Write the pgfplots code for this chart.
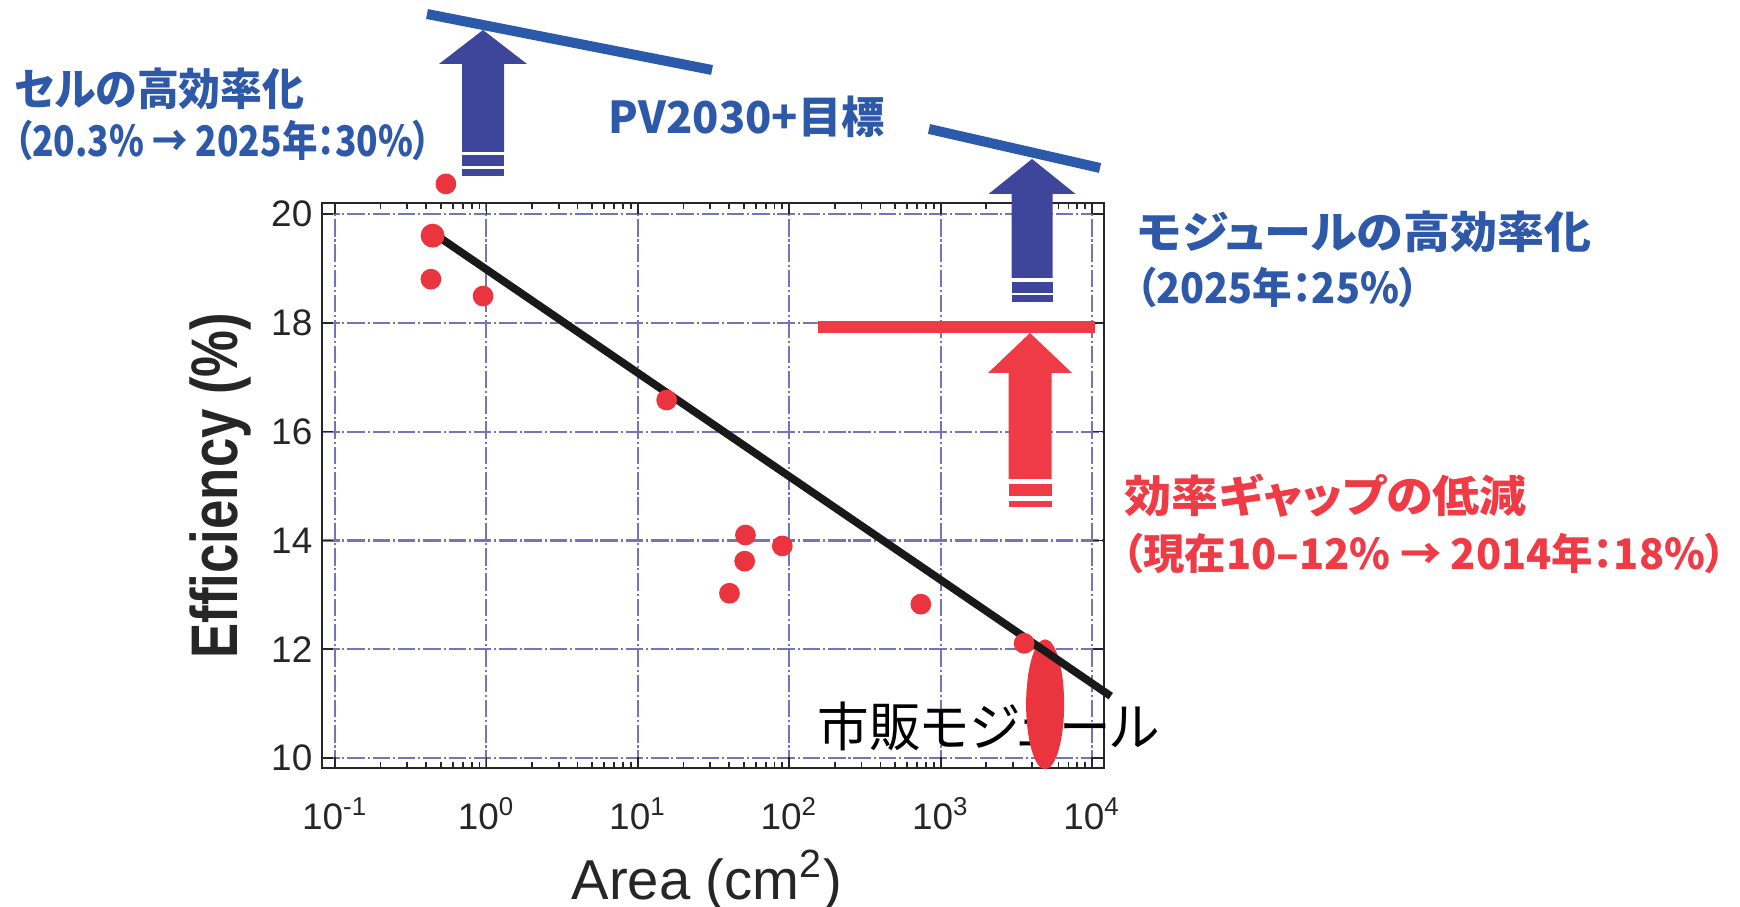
\documentclass[border=0pt]{standalone}
\usepackage{pgfplots}
\pgfplotsset{compat=1.18}
\usepackage{fontspec}
\usepackage{graphicx}
\setmainfont{Liberation Sans}
\newfontfamily\jp{Noto Sans CJK JP}[RawFeature={+palt}]
\definecolor{tblue}{RGB}{46,88,168}
\definecolor{ablue}{RGB}{62,70,155}
\definecolor{lblue}{RGB}{44,90,170}
\definecolor{ared}{RGB}{238,59,69}
\definecolor{pred}{RGB}{234,52,62}
\definecolor{gridc}{RGB}{120,114,182}
\begin{document}
\begin{tikzpicture}
\path[use as bounding box] (0,0) rectangle (174mm,90.7mm);
\begin{axis}[
  at={(32.2mm,13.9mm)}, anchor=south west,
  scale only axis, width=78.2mm, height=56.5mm,
  xmode=log, xmin=0.08204, xmax=11995, ymin=9.82, ymax=20.2,
  clip=false,
  axis line style={black!85, line width=0.7pt},
  tick align=inside,
  major tick length=1.1mm, minor tick length=0.6mm,
  tick style={black!85, line width=0.5pt},
  xtick={0.1,1,10,100,1000,10000},
  xticklabels={10\textsuperscript{-1},10\textsuperscript{0},10\textsuperscript{1},10\textsuperscript{2},10\textsuperscript{3},10\textsuperscript{4}},
  ytick={10,12,14,16,18,20},
  yticklabels={10,12,14,16,18,20},
  ticklabel style={font=\fontsize{10.5}{12}\selectfont, text=black!85},
  xticklabel style={anchor=north, inner sep=0pt, yshift=-2.9mm},
  yticklabel style={anchor=east, inner sep=0pt, xshift=-0.9mm},
  grid=major,
  major grid style={gridc, line width=0.6pt, dash pattern=on 5pt off 0.8pt on 0.6pt off 0.8pt},
  xlabel={Area (cm\textsuperscript{2})},
  xlabel style={font=\fontsize{16}{18}\selectfont, text=black!85, at={(axis description cs:0.492,-0.232)}, anchor=base},
  ylabel={\scalebox{1}[1.25]{Efficiency (\%)}},
  ylabel style={font=\fontsize{15}{18}\selectfont\bfseries, text=black!85, at={(axis description cs:-0.130,0.5)}, anchor=center},
]
% measured points
\addplot[only marks, mark=*, mark size=2.75pt, color=pred, mark options={draw=none}] coordinates {
  (0.43,18.80) (0.95,18.49) (15.5,16.58) (51.4,14.10) (50.8,13.62)
  (40.3,13.03) (90,13.90) (740,12.83) (3560,12.11) (0.54,20.55)
};
% commercial module label and ellipse
\node[anchor=west, inner sep=0pt] at (axis cs:152,10.58) {\resizebox{34.2mm}{\height}{\fontsize{15}{17}\selectfont\jp 市販モジュール}};
\fill[pred] (axis cs:4900,10.99) ellipse [x radius=1.9mm, y radius=6.5mm];
% trend line
\addplot[black!90, line width=2.2pt] coordinates {(0.46,19.62) (13300,11.14)};
% large cell point
\addplot[only marks, mark=*, mark size=3.2pt, color=pred, mark options={draw=none}] coordinates {(0.441,19.60)};
\end{axis}
\begin{scope}[x=0.1mm, y=-0.1mm, shift={(0mm,90.7mm)}]
% PV2030+ target lines
\draw[lblue, line width=1mm] (427,14) -- (712,70);
\draw[lblue, line width=1mm] (929,129) -- (1100,168);
% blue arrow 1
\fill[ablue] (483,30) -- (527,64) -- (504,64) -- (504,152) -- (462,152) -- (462,64) -- (439,64) -- cycle;
\fill[ablue] (462,155) rectangle (504,166);
\fill[ablue] (462,169) rectangle (504,176);
% blue arrow 2
\fill[ablue] (1032,159) -- (1075.5,194) -- (1052.5,194) -- (1052.5,278) -- (1011.5,278) -- (1011.5,194) -- (988.5,194) -- cycle;
\fill[ablue] (1011.5,282) rectangle (1052.5,293);
\fill[ablue] (1011.5,295) rectangle (1052.5,302);
% red line and arrow
\draw[ared, line width=1.2mm] (818,327) -- (1095,327);
\fill[ared] (1030,333) -- (1072,373) -- (1051.5,373) -- (1051.5,479) -- (1008.5,479) -- (1008.5,373) -- (988,373) -- cycle;
\fill[ared] (1008.5,484) rectangle (1051.5,496);
\fill[ared] (1008.5,501) rectangle (1051.5,507);
% texts
\node[anchor=west, inner sep=0pt, text=tblue] at (14,89) {\resizebox{29mm}{\height}{\fontsize{12.5}{14}\selectfont\jp\bfseries セルの高効率化}};
\node[anchor=west, inner sep=0pt, text=tblue] at (14,140) {\resizebox{41.6mm}{\height}{\fontsize{12}{14}\selectfont\jp\bfseries （20.3\% → 2025年：30\%）}};
\node[anchor=west, inner sep=0pt, text=tblue] at (608,117) {\resizebox{27.6mm}{\height}{\fontsize{12.5}{14}\selectfont\jp\bfseries PV2030+目標}};
\node[anchor=west, inner sep=0pt, text=tblue] at (1137,232) {\resizebox{45.4mm}{\height}{\fontsize{12.5}{14}\selectfont\jp\bfseries モジュールの高効率化}};
\node[anchor=west, inner sep=0pt, text=tblue] at (1136,287) {\resizebox{28.2mm}{\height}{\fontsize{12}{14}\selectfont\jp\bfseries （2025年：25\%）}};
\node[anchor=west, inner sep=0pt, text=ared] at (1124,496) {\resizebox{40.2mm}{\height}{\fontsize{12.5}{14}\selectfont\jp\bfseries 効率ギャップの低減}};
\node[anchor=west, inner sep=0pt, text=ared] at (1122,553) {\resizebox{60.3mm}{\height}{\fontsize{12}{14}\selectfont\jp\bfseries （現在10–12\% → 2014年：18\%）}};
\end{scope}
\end{tikzpicture}
\end{document}
